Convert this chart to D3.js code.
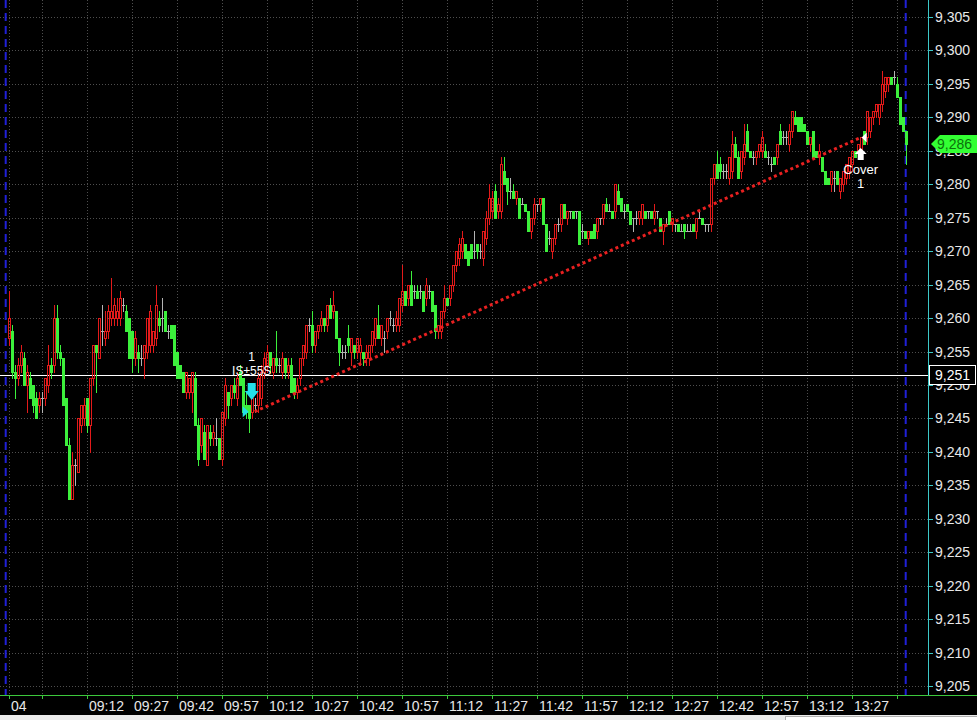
<!DOCTYPE html>
<html><head><meta charset="utf-8">
<script src="https://cdnjs.cloudflare.com/ajax/libs/d3/7.8.5/d3.min.js"></script>
<style>html,body{margin:0;padding:0;background:#000;overflow:hidden}svg{display:block}text{font-family:"Liberation Sans",Arial,sans-serif}</style>
</head><body>
<svg id="c" width="977" height="720"></svg>
<script>
// ---------- DATA (1-minute bars, 08:46 .. 13:45) ----------
const opens = [9257,9258,9252,9251,9253,9254,9250,9251,9250,9248,9247,9248,9248,9250,9253,9253,9260,9255,9254,9248,
9241,9233,9238,9237,9244,9245,9248,9244,9251,9256,9254,9258,9257,9258,9260,9260,9260,9260,9262,9261,
9260,9258,9254,9255,9254,9254,9255,9256,9256,9257,9260,9260,9261,9258,9259,9259,9255,9253,9252,9249,
9249,9249,9251,9244,9241,9243,9238,9243,9242,9242,9242,9239,9245,9249,9248,9250,9248,9252,9251,9247,
9247,9246,9247,9247,9248,9252,9253,9255,9252,9254,9253,9252,9254,9252,9253,9251,9249,9251,9254,9255,
9259,9259,9256,9258,9259,9260,9259,9262,9261,9261,9257,9255,9255,9257,9255,9256,9255,9255,9255,9254,
9254,9256,9257,9259,9257,9257,9258,9260,9259,9259,9259,9262,9264,9263,9265,9264,9264,9264,9264,9263,
9264,9264,9262,9258,9258,9261,9263,9263,9265,9268,9269,9270,9271,9270,9271,9270,9271,9270,9269,9272,
9275,9276,9279,9276,9276,9282,9281,9279,9279,9278,9278,9277,9277,9276,9273,9275,9277,9277,9278,9274,
9272,9270,9272,9274,9274,9277,9275,9276,9276,9276,9276,9273,9273,9272,9273,9274,9273,9275,9275,9277,
9276,9276,9276,9279,9278,9276,9277,9276,9275,9275,9275,9275,9276,9276,9276,9275,9276,9275,9273,9274,
9276,9274,9274,9274,9273,9274,9273,9273,9274,9273,9275,9275,9274,9274,9274,9281,9283,9283,9282,9282,
9281,9282,9286,9284,9282,9284,9288,9285,9284,9284,9285,9285,9285,9284,9283,9284,9284,9288,9287,9287,
9286,9288,9290,9290,9290,9289,9288,9286,9288,9285,9284,9284,9282,9281,9280,9281,9282,9279,9280,9281,
9282,9283,9285,9285,9285,9288,9287,9288,9290,9291,9290,9292,9294,9295,9296,9296,9295,9293,9290,9288];
const highs = [9264,9259,9253,9254,9256,9255,9253,9252,9250,9249,9249,9249,9251,9256,9254,9262,9262,9256,9254,9248,
9242,9240,9239,9245,9247,9248,9248,9251,9256,9256,9260,9262,9261,9262,9266,9263,9263,9264,9263,9262,
9260,9258,9258,9256,9256,9256,9260,9262,9258,9265,9261,9263,9261,9259,9259,9259,9255,9253,9252,9252,
9251,9252,9252,9245,9245,9244,9244,9244,9244,9245,9242,9246,9251,9249,9250,9251,9252,9253,9251,9249,
9247,9248,9248,9252,9253,9255,9256,9255,9254,9258,9254,9255,9254,9254,9254,9251,9251,9254,9256,9259,
9260,9261,9258,9259,9261,9260,9262,9263,9264,9261,9257,9256,9256,9259,9257,9256,9257,9257,9255,9256,
9256,9258,9260,9262,9259,9258,9260,9261,9260,9261,9263,9268,9264,9265,9267,9265,9265,9265,9264,9266,
9265,9264,9262,9259,9261,9265,9263,9265,9268,9270,9272,9273,9271,9270,9271,9273,9271,9271,9273,9276,
9280,9279,9280,9278,9284,9284,9281,9281,9280,9279,9278,9278,9277,9276,9275,9278,9277,9278,9278,9274,
9273,9272,9274,9275,9277,9277,9276,9276,9276,9276,9276,9274,9273,9273,9273,9274,9275,9275,9277,9278,
9277,9276,9280,9280,9278,9277,9277,9276,9275,9276,9276,9277,9276,9276,9276,9277,9276,9275,9274,9275,
9276,9275,9274,9274,9274,9274,9274,9274,9274,9275,9276,9275,9274,9274,9281,9283,9285,9284,9283,9283,
9284,9288,9287,9285,9285,9289,9289,9285,9285,9285,9286,9288,9286,9285,9284,9284,9286,9289,9288,9288,
9289,9291,9291,9290,9290,9289,9288,9287,9288,9285,9286,9284,9282,9281,9282,9282,9282,9281,9282,9283,
9284,9285,9285,9286,9287,9288,9291,9290,9291,9292,9292,9297,9296,9296,9296,9297,9296,9293,9290,9288];
const lows = [9256,9251,9248,9250,9252,9250,9246,9248,9246,9245,9246,9246,9247,9249,9251,9252,9254,9253,9247,9241,
9233,9233,9235,9237,9243,9244,9243,9240,9250,9249,9254,9256,9256,9257,9259,9259,9259,9259,9261,9258,
9254,9252,9253,9252,9253,9251,9254,9255,9255,9256,9258,9258,9258,9257,9257,9253,9251,9251,9249,9248,
9248,9246,9244,9238,9240,9239,9238,9241,9241,9241,9239,9238,9244,9245,9247,9248,9247,9250,9246,9245,
9243,9245,9246,9246,9247,9251,9252,9252,9251,9252,9252,9251,9251,9251,9249,9248,9248,9250,9253,9254,
9258,9255,9255,9257,9258,9258,9258,9260,9260,9257,9253,9254,9254,9255,9253,9254,9254,9253,9253,9253,
9253,9255,9256,9257,9256,9255,9257,9259,9258,9258,9258,9261,9262,9262,9262,9263,9263,9263,9261,9262,
9263,9261,9257,9257,9257,9260,9262,9262,9264,9267,9268,9269,9269,9268,9269,9269,9269,9269,9268,9271,
9274,9275,9275,9275,9275,9280,9277,9278,9278,9277,9275,9277,9276,9273,9272,9274,9276,9276,9274,9270,
9271,9269,9271,9273,9273,9275,9274,9275,9275,9275,9271,9272,9272,9271,9272,9272,9272,9274,9274,9276,
9276,9275,9275,9277,9276,9275,9276,9274,9273,9274,9274,9274,9275,9275,9275,9274,9275,9273,9271,9274,
9274,9273,9273,9273,9273,9272,9273,9273,9273,9272,9275,9274,9273,9273,9273,9280,9281,9281,9281,9281,
9280,9281,9284,9281,9281,9283,9285,9284,9283,9283,9284,9284,9284,9283,9282,9283,9283,9286,9286,9286,
9285,9287,9289,9288,9288,9288,9286,9285,9284,9284,9283,9282,9280,9280,9279,9279,9280,9278,9279,9280,
9281,9282,9284,9284,9284,9286,9286,9287,9289,9290,9289,9291,9293,9294,9295,9295,9293,9289,9288,9283];
const closes = [9260,9252,9251,9253,9255,9250,9252,9248,9247,9245,9248,9248,9251,9253,9252,9260,9255,9254,9247,9241,
9233,9238,9238,9245,9247,9247,9244,9251,9256,9255,9260,9258,9258,9261,9261,9262,9261,9263,9262,9258,
9254,9254,9257,9254,9254,9256,9260,9261,9258,9262,9259,9260,9258,9258,9257,9253,9251,9251,9249,9252,
9251,9252,9244,9239,9245,9239,9244,9242,9243,9242,9239,9246,9250,9247,9250,9249,9251,9250,9246,9246,
9245,9248,9247,9251,9252,9254,9255,9253,9254,9253,9253,9254,9252,9253,9249,9249,9250,9254,9256,9259,
9259,9256,9258,9259,9260,9259,9262,9260,9262,9257,9255,9255,9255,9256,9257,9255,9257,9256,9254,9255,
9256,9258,9260,9257,9259,9257,9260,9260,9259,9260,9263,9264,9262,9265,9262,9264,9263,9264,9261,9265,
9264,9261,9258,9259,9261,9263,9262,9265,9268,9270,9271,9272,9269,9268,9269,9270,9270,9270,9273,9275,
9278,9278,9275,9277,9283,9280,9279,9279,9278,9279,9275,9277,9276,9273,9275,9277,9277,9278,9274,9270,
9272,9272,9274,9274,9277,9275,9276,9276,9275,9276,9271,9273,9272,9273,9272,9272,9275,9275,9277,9276,
9276,9275,9280,9277,9276,9276,9276,9274,9275,9275,9276,9277,9275,9276,9275,9276,9276,9273,9274,9274,
9274,9275,9274,9273,9273,9273,9273,9273,9273,9275,9275,9274,9274,9274,9281,9283,9281,9282,9282,9282,
9284,9286,9284,9281,9285,9286,9285,9284,9284,9285,9286,9287,9284,9284,9283,9283,9286,9286,9287,9287,
9288,9291,9289,9288,9288,9288,9286,9287,9284,9284,9285,9282,9280,9280,9282,9281,9280,9281,9282,9283,
9284,9285,9284,9286,9287,9286,9291,9290,9291,9292,9292,9295,9296,9296,9295,9296,9293,9289,9288,9286];

const sessionStart = "08:45";
const sessionEnd = "13:45";
const tickTimes  = ["08:46","08:57","09:12","09:27","09:42","09:57","10:12","10:27","10:42","10:57","11:12","11:27","11:42","11:57","12:12","12:27","12:42","12:57","13:12","13:27","13:42"];
const tickLabels = ["04","","09:12","09:27","09:42","09:57","10:12","10:27","10:42","10:57","11:12","11:27","11:42","11:57","12:12","12:27","12:42","12:57","13:12","13:27",""];
const priceTicks = [9205,9210,9215,9220,9225,9230,9235,9240,9245,9250,9255,9260,9265,9270,9275,9280,9285,9290,9295,9300,9305];
const refLevel = 9251.5, refLabel = "9,251";
const lastLabel = "9,286";
// trade
const entryBar = 81, entryPrice = 9246, exitBar = 284, exitPrice = 9287;
const entryText = ["1", "IS\u00b155S"];
const exitText = ["Cover", "1"];

// ---------- SETUP ----------
const W = 977, H = 720, plotRight = 928, plotBottom = 695;
const parse = d3.timeParse("%H:%M");
const t0 = parse(sessionStart), t1 = parse(sessionEnd);
const barTimes = opens.map((_, i) => d3.timeMinute.offset(t0, i + 1));
const x = d3.scaleTime().domain([t0, t1]).range([5.7, 905.7]);
const y = d3.scaleLinear().domain([9205, 9305]).range([686, 17]);
const svg = d3.select("#c");
svg.append("rect").attr("width", W).attr("height", H).attr("fill", "#000");

const GREEN = "#3cf03c", RED = "#e41a1a", GRAY = "#b4b4b4";

// grid
const grid = svg.append("g");
grid.selectAll("line.h").data(priceTicks).join("line")
  .attr("x1", 0).attr("x2", plotRight).attr("y1", d => Math.round(y(d)) + 0.5).attr("y2", d => Math.round(y(d)) + 0.5)
  .attr("stroke", "#4e4e4e").attr("stroke-dasharray", "1,2");
grid.selectAll("line.v").data(tickTimes).join("line")
  .attr("x1", d => Math.round(x(parse(d))) + 0.5).attr("x2", d => Math.round(x(parse(d))) + 0.5)
  .attr("y1", 0).attr("y2", plotBottom)
  .attr("stroke", "#4e4e4e").attr("stroke-dasharray", "1,2");

// session separators
[t0, t1].forEach(t => {
  svg.append("line").attr("x1", x(t)).attr("x2", x(t)).attr("y1", 0).attr("y2", plotBottom)
    .attr("stroke", "#2020d8").attr("stroke-width", 2).attr("stroke-dasharray", "8,5");
});

// reference line
svg.append("line").attr("x1", 0).attr("x2", plotRight).attr("y1", Math.round(y(refLevel)) + 0.5).attr("y2", Math.round(y(refLevel)) + 0.5)
  .attr("stroke", "#ffffff");

// candles
const cg = svg.append("g");
opens.forEach((o, i) => {
  const c = closes[i], h = highs[i], l = lows[i];
  const cx = Math.round(x(barTimes[i]));
  const left = cx - 1;
  const yO = Math.round(y(o)), yC = Math.round(y(c)), yH = Math.round(y(h)), yL = Math.round(y(l));
  if (c > o) {
    cg.append("line").attr("x1", left + 1.5).attr("x2", left + 1.5).attr("y1", yH).attr("y2", yC).attr("stroke", RED);
    cg.append("line").attr("x1", left + 1.5).attr("x2", left + 1.5).attr("y1", yO).attr("y2", yL + 1).attr("stroke", RED);
    cg.append("rect").attr("x", left + 0.5).attr("y", yC + 0.5).attr("width", 2).attr("height", Math.max(1, yO - yC))
      .attr("fill", "none").attr("stroke", RED);
  } else if (c < o) {
    cg.append("rect").attr("x", left + 1).attr("y", yH).attr("width", 1).attr("height", yL - yH + 1).attr("fill", GREEN);
    cg.append("rect").attr("x", left).attr("y", yO).attr("width", 3).attr("height", Math.max(1, yC - yO + 1)).attr("fill", GREEN);
  } else {
    cg.append("rect").attr("x", left + 1).attr("y", yH).attr("width", 1).attr("height", yL - yH + 1).attr("fill", GRAY);
    cg.append("rect").attr("x", left).attr("y", yO).attr("width", 3).attr("height", 1).attr("fill", GRAY);
  }
});

// trade line
const ex = x(barTimes[entryBar]), xx = x(barTimes[exitBar]);
svg.append("line").attr("x1", ex + 3).attr("y1", y(entryPrice)).attr("x2", xx).attr("y2", y(exitPrice))
  .attr("stroke", "#e82020").attr("stroke-width", 3).attr("stroke-dasharray", "3,3");

// entry markers
const eTip = Math.round(y(highs[entryBar])) + 2;
svg.append("path").attr("fill", "#22e0e8")
  .attr("d", `M${ex-4},${eTip-17} h8 v8 h3 L${ex},${eTip} L${ex-7},${eTip-9} h3 Z`);
const eY = y(entryPrice);
svg.append("path").attr("fill", "#22e0e8")
  .attr("d", `M${ex-3},${eY} L${ex-9},${eY-5.5} L${ex-9},${eY+5.5} Z`);
svg.append("text").attr("x", ex).attr("y", 357).attr("text-anchor", "middle").attr("dominant-baseline", "central")
  .attr("fill", "#fff").attr("font-size", 12).text(entryText[0]);
svg.append("text").attr("x", ex).attr("y", 371).attr("text-anchor", "middle").attr("dominant-baseline", "central")
  .attr("fill", "#fff").attr("font-size", 12).text(entryText[1]);

// exit markers
const xTip = Math.round(y(lows[exitBar])) - 9;
svg.append("path").attr("fill", "#ffffff")
  .attr("d", `M${xx},${xTip} L${xx+6},${xTip+6} h-3 v6 h-6 v-6 h-3 Z`);
const xY = y(exitPrice);
svg.append("path").attr("fill", "#ffffff")
  .attr("d", `M${xx+1},${xY} L${xx+6},${xY-5} L${xx+6},${xY+5} Z`);
svg.append("text").attr("x", xx).attr("y", 169).attr("text-anchor", "middle").attr("dominant-baseline", "central")
  .attr("fill", "#fff").attr("font-size", 13).text(exitText[0]);
svg.append("text").attr("x", xx).attr("y", 183).attr("text-anchor", "middle").attr("dominant-baseline", "central")
  .attr("fill", "#fff").attr("font-size", 13).text(exitText[1]);

// right axis
svg.append("line").attr("x1", plotRight + 0.5).attr("x2", plotRight + 0.5).attr("y1", 0).attr("y2", plotBottom)
  .attr("stroke", "#3cc8c8");
const ra = svg.append("g");
ra.selectAll("line").data(priceTicks).join("line")
  .attr("x1", plotRight).attr("x2", plotRight + 5).attr("y1", d => Math.round(y(d)) + 0.5).attr("y2", d => Math.round(y(d)) + 0.5)
  .attr("stroke", "#3cc8c8");
ra.selectAll("text").data(priceTicks).join("text")
  .attr("x", 935).attr("y", d => y(d)).attr("dominant-baseline", "central")
  .attr("fill", "#e8e8e8").attr("font-size", 14).text(d => d3.format(",")(d));

// reference label box
const ry = Math.round(y(refLevel));
svg.append("rect").attr("x", 929.5).attr("y", ry - 9.5).attr("width", 46).attr("height", 19)
  .attr("fill", "#000").attr("stroke", "#fff");
svg.append("text").attr("x", 935).attr("y", ry).attr("dominant-baseline", "central")
  .attr("fill", "#fff").attr("font-size", 14).text(refLabel);

// last price label
const ly = Math.round(y(closes[closes.length - 1]));
svg.append("path").attr("fill", "#33ff33")
  .attr("d", `M931,${ly} L940,${ly-9} L977,${ly-9} L977,${ly+9} L940,${ly+9} Z`);
svg.append("text").attr("x", 937).attr("y", ly).attr("dominant-baseline", "central")
  .attr("fill", "#0b700b").attr("font-size", 14).text(lastLabel);

// bottom axis
svg.append("line").attr("x1", 0).attr("x2", W).attr("y1", plotBottom + 0.5).attr("y2", plotBottom + 0.5).attr("stroke", "#3cc83c");
const ba = svg.append("g");
ba.selectAll("line").data(tickTimes).join("line")
  .attr("x1", d => Math.round(x(parse(d))) + 0.5).attr("x2", d => Math.round(x(parse(d))) + 0.5)
  .attr("y1", plotBottom).attr("y2", plotBottom + 4).attr("stroke", "#3cc83c");
ba.selectAll("text").data(tickTimes).join("text")
  .attr("x", d => Math.round(x(parse(d))) + 2).attr("y", 711)
  .attr("fill", "#e8e8e8").attr("font-size", 14).text((d, i) => tickLabels[i]);

// bottom strip
svg.append("rect").attr("x", 0).attr("y", 715).attr("width", W).attr("height", 5).attr("fill", "#ececec");
svg.append("rect").attr("x", 785.5).attr("y", 716.5).attr("width", 192).attr("height", 4).attr("fill", "#fff").attr("stroke", "#b0b0b0");
</script>
</body></html>
